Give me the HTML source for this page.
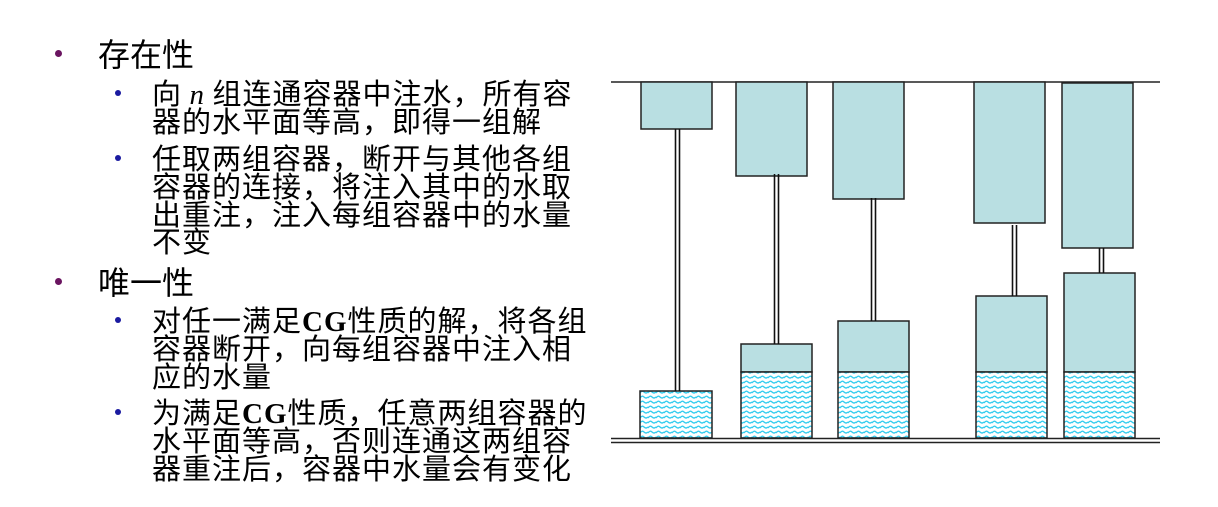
<!DOCTYPE html>
<html><head><meta charset="utf-8"><style>
html,body{margin:0;padding:0;background:#fff;}
body{width:1218px;height:507px;position:relative;overflow:hidden;font-family:"WenQuanYi Zen Hei","Noto Sans CJK SC",sans-serif;color:#000;}
.l{position:absolute;white-space:nowrap;}
.t1{font-size:32px;line-height:32px;left:98px;}
.t2{font-size:29px;line-height:29px;left:152px;letter-spacing:1px;}
.d1{position:absolute;left:55px;width:7px;height:7px;border-radius:50%;background:#6a1460;}
.d2{position:absolute;left:115px;width:6px;height:6px;border-radius:50%;background:#1a1aa0;}
b{font-family:"Liberation Serif",serif;}
</style></head><body>
<div class="d1" style="top:50px"></div>
<div class="l t1" style="top:37px">存在性</div>
<div class="d2" style="top:90px"></div>
<div class="l t2" style="top:78px">向 <i style="font-family:'Liberation Serif',serif">n</i> 组连通容器中注水，所有容</div>
<div class="l t2" style="top:106px">器的水平面等高，即得一组解</div>
<div class="d2" style="top:155px"></div>
<div class="l t2" style="top:143px">任取两组容器，断开与其他各组</div>
<div class="l t2" style="top:171px">容器的连接，将注入其中的水取</div>
<div class="l t2" style="top:199px">出重注，注入每组容器中的水量</div>
<div class="l t2" style="top:226px">不变</div>
<div class="d1" style="top:278px"></div>
<div class="l t1" style="top:265px">唯一性</div>
<div class="d2" style="top:317px"></div>
<div class="l t2" style="top:305px">对任一满足<b>CG</b>性质的解，将各组</div>
<div class="l t2" style="top:333px">容器断开，向每组容器中注入相</div>
<div class="l t2" style="top:361px">应的水量</div>
<div class="d2" style="top:409px"></div>
<div class="l t2" style="top:397px">为满足<b>CG</b>性质，任意两组容器的</div>
<div class="l t2" style="top:425px">水平面等高，否则连通这两组容</div>
<div class="l t2" style="top:453px">器重注后，容器中水量会有变化</div>

<svg width="1218" height="507" style="position:absolute;left:0;top:0">
<defs>
<pattern id="w" width="8" height="5" patternUnits="userSpaceOnUse">
<rect width="8" height="5" fill="#fff"/>
<path d="M0 3 Q2 0 4 2 T8 2" fill="none" stroke="#33ccee" stroke-width="1.3"/>
</pattern>
</defs>
<g stroke="#222" stroke-width="1.5">
<line x1="611" y1="82" x2="1160" y2="82"/>
<line x1="611" y1="438.5" x2="1160" y2="438.5"/>
<line x1="611" y1="442.5" x2="1160" y2="442.5"/>
</g>
<g stroke="#222" stroke-width="1.5" fill="#b9dfe2">
<rect x="641" y="82" width="71" height="47"/>
<rect x="736" y="82" width="71" height="94"/>
<rect x="833" y="82" width="71" height="117"/>
<rect x="974" y="82" width="71" height="141"/>
<rect x="1062" y="83" width="71" height="165"/>
<rect x="741" y="344" width="71" height="28"/>
<rect x="838" y="321" width="71" height="51"/>
<rect x="976" y="296" width="71" height="76"/>
<rect x="1064" y="273" width="71" height="99"/>
</g>
<g stroke="#222" stroke-width="1.5" fill="url(#w)">
<rect x="640" y="391" width="72" height="47"/>
<rect x="741" y="372" width="71" height="66"/>
<rect x="838" y="372" width="71" height="66"/>
<rect x="976" y="372" width="71" height="66"/>
<rect x="1064" y="372" width="71" height="66"/>
</g>
<g stroke="#111" stroke-width="1.6">
<line x1="675.5" y1="129" x2="675.5" y2="391"/><line x1="679.5" y1="129" x2="679.5" y2="391"/>
<line x1="774.5" y1="174" x2="774.5" y2="344"/><line x1="778.5" y1="174" x2="778.5" y2="344"/>
<line x1="871.5" y1="198" x2="871.5" y2="321"/><line x1="875.5" y1="198" x2="875.5" y2="321"/>
<line x1="1012.5" y1="225" x2="1012.5" y2="296"/><line x1="1016.5" y1="225" x2="1016.5" y2="296"/>
<line x1="1099.5" y1="248" x2="1099.5" y2="273"/><line x1="1103.5" y1="248" x2="1103.5" y2="273"/>
</g>
</svg>
</body></html>
